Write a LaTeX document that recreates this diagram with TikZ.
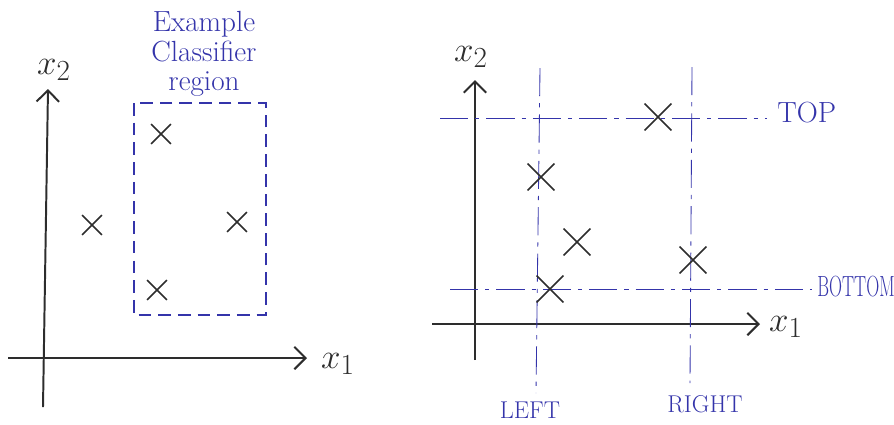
\documentclass[tikz,border=0pt]{standalone}
\usepackage{amsmath}
\usepackage{graphicx}
\usepackage{tikz}
\usetikzlibrary{arrows.meta,shapes.misc}

\definecolor{inkblue}{RGB}{52,52,170}
\definecolor{pencil}{RGB}{45,45,45}

\begin{document}
\begin{tikzpicture}[
    x=0.025cm,
    y=-0.025cm,
    every node/.style={font=\Large},
    axis/.style={draw=pencil, line width=1.4pt, -{Straight Barb[length=8pt,width=16pt,line width=1.4pt]}},
    axlabel/.style={font=\Huge, text=pencil, inner sep=0pt},
    sample/.style={cross out, draw=pencil, line width=1.1pt, minimum size=#1, inner sep=0pt},
    sample/.default=13pt,
    region/.style={draw=inkblue, line width=0.8pt, dash pattern=on 9pt off 5pt},
    cut/.style={draw=inkblue, line width=0.6pt, dash pattern=on 20pt off 5pt on 3pt off 5pt},
    ink/.style={text=inkblue, font=\huge, inner sep=0pt}
  ]
    \useasboundingbox (0,0) rectangle (894,424);

    % left: example region
    \coordinate (lo) at (8,358);
    \coordinate (lx) at (307,358);
    \coordinate (ly0) at (43,407);
    \coordinate (ly) at (48,89);
    \draw[axis] (lo) -- (lx);
    \draw[axis] (ly0) -- (ly);
    \node[axlabel] (lxlab) at (338,364) {$x_1$};
    \node[axlabel] (lylab) at (54,70) {$x_2$};

    \draw[region] (134,103) rectangle (266,315);
    \node[ink, align=center] (note) at (204,54)
      {Example\\[-4pt]Classifier\\[-4pt]region};

    \node[sample] (a1) at (161,134) {};
    \node[sample] (a2) at (92,225) {};
    \node[sample] (a3) at (237,222) {};
    \node[sample] (a4) at (157,290) {};

    % right: thresholds
    \coordinate (ro) at (432,324);
    \coordinate (rx) at (760,324);
    \coordinate (ry0) at (475,360);
    \coordinate (ry) at (475,80);
    \draw[axis] (ro) -- (rx);
    \draw[axis] (ry0) -- (ry);
    \node[axlabel] (rxlab) at (786,327) {$x_1$};
    \node[axlabel] (rylab) at (471,57) {$x_2$};

    \coordinate (top0) at (440,118);
    \coordinate (top1) at (767,118);
    \coordinate (bot0) at (450,289);
    \coordinate (bot1) at (812,289);
    \coordinate (lft0) at (540,68);
    \coordinate (lft1) at (536,393);
    \coordinate (rgt0) at (692,67);
    \coordinate (rgt1) at (690,383);
    \draw[cut] (top0) -- (top1);
    \draw[cut] (bot0) -- (bot1);
    \draw[cut] (lft0) -- (lft1);
    \draw[cut] (rgt0) -- (rgt1);
    \node[ink, anchor=west] (toplab) at (777,113) {TOP};
    \node[ink, anchor=west] (botlab) at (817,287) {\scalebox{0.62}[1]{BOTTOM}};
    \node[ink, font=\LARGE] (lftlab) at (530,410) {LEFT};
    \node[ink, font=\LARGE] (rgtlab) at (705,404) {RIGHT};

    \node[sample=18pt] (b1) at (658,117) {};
    \node[sample=18pt] (b2) at (541,177) {};
    \node[sample=18pt] (b3) at (577,242) {};
    \node[sample=18pt] (b4) at (693,260) {};
    \node[sample=18pt] (b5) at (550,289) {};
  \end{tikzpicture}
\end{document}
